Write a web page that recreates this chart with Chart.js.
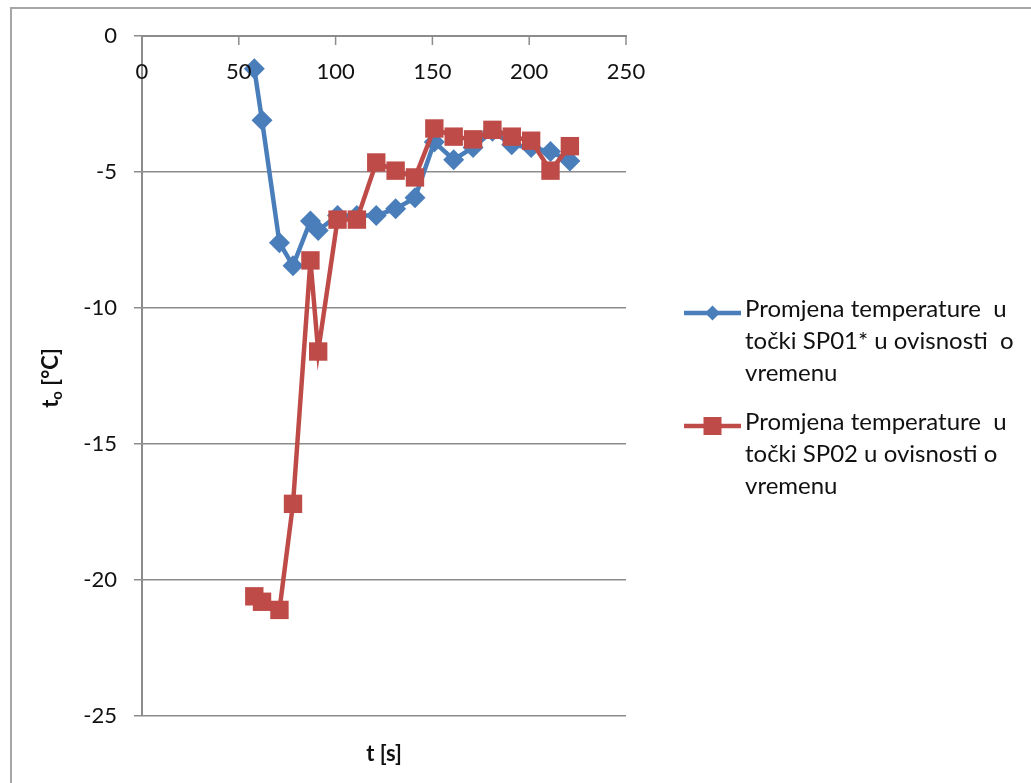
<!DOCTYPE html>
<html>
<head>
<meta charset="utf-8">
<script src="https://cdn.jsdelivr.net/npm/chart.js@4.4.1/dist/chart.umd.min.js"></script>
<style>
  html, body { margin: 0; padding: 0; background: #fff; }
  #wrap { position: relative; width: 1031px; height: 783px; }
</style>
</head>
<body>
<div id="wrap"><canvas id="c" width="1031" height="783"></canvas></div>
<script>
// ---- data ----
const times = [58, 62, 71, 78, 87, 91, 101, 111, 121, 131, 141, 151, 161, 171, 181, 191, 201, 211, 221];
const sp01 = [-1.2, -3.1, -7.6, -8.45, -6.8, -7.15, -6.6, -6.6, -6.6, -6.35, -5.95, -3.9, -4.55, -4.1, -3.5, -4.0, -4.1, -4.25, -4.6];
const sp02 = [-20.6, -20.8, -21.1, -17.2, -8.25, -11.6, -6.75, -6.75, -4.65, -4.95, -5.2, -3.4, -3.7, -3.8, -3.45, -3.7, -3.85, -4.95, -4.05];
const xTicks = [0, 50, 100, 150, 200, 250];
const yTicks = [0, -5, -10, -15, -20, -25];
const legendLines1 = ["Promjena temperature  u", "točki SP01* u ovisnosti  o", "vremenu"];
const legendLines2 = ["Promjena temperature  u", "točki SP02 u ovisnosti o", "vremenu"];
const xTitle = "t [s]";
const yTitleMain = "t";
const yTitleSub = "o";
const yTitleRest = " [°C]";

const BLUE = '#4a7ebb';
const RED = '#be4b48';
const GRID = '#8c8c8c';
const FONT = 'Lato, "DejaVu Sans", sans-serif';
const TXT = '#111111';

const toPts = (ys) => times.map((t, i) => ({ x: t, y: ys[i] }));

const decor = {
  id: 'decor',
  afterDraw(chart) {
    const ctx = chart.ctx;
    const xs = chart.scales.x, ys = chart.scales.y;
    const ca = chart.chartArea;
    ctx.save();
    // outer frame
    ctx.strokeStyle = '#a6a6a6';
    ctx.lineWidth = 2;
    ctx.beginPath();
    ctx.moveTo(11, 783); ctx.lineTo(11, 8); ctx.lineTo(1031, 8);
    ctx.stroke();
    // x tick marks (below top axis) and labels
    ctx.strokeStyle = GRID;
    ctx.lineWidth = 1.5;
    const y0 = ys.getPixelForValue(0);
    ctx.fillStyle = TXT;
    ctx.font = '22px ' + FONT;
    ctx.textAlign = 'center';
    ctx.textBaseline = 'middle';
    xTicks.forEach(v => {
      const px = xs.getPixelForValue(v);
      ctx.beginPath();
      ctx.moveTo(px, y0); ctx.lineTo(px, y0 + 9);
      ctx.stroke();
      ctx.fillText(String(v), px, y0 + 36);
    });
    // x title
    ctx.font = 'bold 22px ' + FONT;
    ctx.fillText(xTitle, (ca.left + ca.right) / 2, 754);
    // y title (rotated, with subscript)
    ctx.save();
    ctx.translate(50, 378);
    ctx.rotate(-Math.PI / 2);
    ctx.textAlign = 'left';
    ctx.textBaseline = 'alphabetic';
    ctx.font = 'bold 22px ' + FONT;
    const w1 = ctx.measureText(yTitleMain).width;
    ctx.font = 'bold 15px ' + FONT;
    const w2 = ctx.measureText(yTitleSub).width;
    ctx.font = 'bold 22px ' + FONT;
    const w3 = ctx.measureText(yTitleRest).width;
    let sx = -(w1 + w2 + w3) / 2;
    ctx.fillText(yTitleMain, sx, 8);
    ctx.font = 'bold 15px ' + FONT;
    ctx.fillText(yTitleSub, sx + w1, 12);
    ctx.font = 'bold 22px ' + FONT;
    ctx.fillText(yTitleRest, sx + w1 + w2, 8);
    ctx.restore();
    // legend
    const drawEntry = (lines, color, style, yTop) => {
      ctx.strokeStyle = color;
      ctx.lineWidth = 4.5;
      ctx.beginPath();
      ctx.moveTo(684, yTop); ctx.lineTo(741, yTop);
      ctx.stroke();
      ctx.fillStyle = color;
      ctx.beginPath();
      if (style === 'diamond') {
        ctx.moveTo(712.5, yTop - 7.5); ctx.lineTo(720, yTop); ctx.lineTo(712.5, yTop + 7.5); ctx.lineTo(705, yTop);
        ctx.closePath();
      } else {
        ctx.rect(703.5, yTop - 9, 18, 18);
      }
      ctx.fill();
      ctx.fillStyle = TXT;
      ctx.font = '24px ' + FONT;
      ctx.textAlign = 'left';
      ctx.textBaseline = 'middle';
      lines.forEach((l, i) => ctx.fillText(l, 745, yTop - 4 + i * 32));
    };
    drawEntry(legendLines1, BLUE, 'diamond', 313);
    drawEntry(legendLines2, RED, 'square', 426);
    ctx.restore();
  }
};

new Chart(document.getElementById('c'), {
  type: 'scatter',
  data: {
    datasets: [
      {
        label: legendLines1.join(' '),
        data: toPts(sp01),
        showLine: true,
        borderColor: BLUE,
        backgroundColor: BLUE,
        borderWidth: 4.5,
        pointStyle: 'rectRot',
        pointRadius: 10.5,
        pointBorderWidth: 0,
        order: 2
      },
      {
        label: legendLines2.join(' '),
        data: toPts(sp02),
        showLine: true,
        borderColor: RED,
        backgroundColor: RED,
        borderWidth: 4.5,
        pointStyle: 'rect',
        pointRadius: 13,
        pointBorderWidth: 0,
        order: 1
      }
    ]
  },
  options: {
    responsive: false,
    animation: false,
    events: [],
    layout: { padding: { left: 0, top: 0, right: 405, bottom: 67 } },
    plugins: { legend: { display: false }, tooltip: { enabled: false } },
    scales: {
      x: {
        type: 'linear',
        position: 'top',
        min: 0, max: 250,
        ticks: { display: false, stepSize: 50 },
        grid: { display: false },
        border: { display: true, color: GRID, width: 2 },
        afterFit(s) { s.height = 36; }
      },
      y: {
        type: 'linear',
        min: -25, max: 0,
        afterBuildTicks(s) { s.ticks = yTicks.map(v => ({ value: v })); },
        ticks: { color: TXT, font: { family: FONT, size: 22 }, padding: 17 },
        grid: { color: GRID, lineWidth: 1.5, tickLength: 8, drawTicks: true },
        border: { display: true, color: GRID, width: 2 },
        afterFit(s) { s.width = 142; }
      }
    }
  },
  plugins: [decor]
});
</script>
</body>
</html>
